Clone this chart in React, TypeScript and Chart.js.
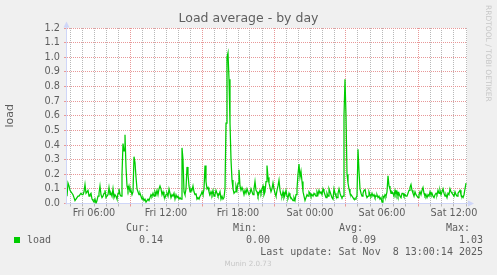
import React, { useEffect, useRef } from 'react';
import { Chart, registerables } from 'chart.js';

Chart.register(...registerables);

const chartTitle = 'Load average - by day';
const yAxisTitle = 'load';
const seriesLabel = 'load';
const seriesColor = '#00CC00';

// first sample at Fri 03:45 (hours counted from Fri 00:00), one sample every 5 minutes
const startHour = 3.75;
const stepHours = 5 / 60;
const loadValues = [
  0.05, 0.14, 0.12, 0.09, 0.08, 0.07, 0.06, 0.04, 0.02, 0.03, 0.04, 0.05, 0.05, 0.06, 0.07, 0.06, 0.06, 0.08, 0.13, 0.07,
  0.08, 0.09, 0.05, 0.06, 0.07, 0.03, 0.02, 0.01, 0.03, 0.00, 0.02, 0.05, 0.07, 0.12, 0.06, 0.04, 0.05, 0.07, 0.09, 0.04,
  0.05, 0.06, 0.11, 0.06, 0.07, 0.05, 0.10, 0.04, 0.06, 0.05, 0.03, 0.07, 0.10, 0.06, 0.05, 0.20, 0.41, 0.36, 0.47, 0.25,
  0.12, 0.09, 0.12, 0.08, 0.09, 0.06, 0.08, 0.32, 0.28, 0.18, 0.10, 0.08, 0.06, 0.07, 0.05, 0.03, 0.04, 0.02, 0.03, 0.01,
  0.02, 0.03, 0.02, 0.04, 0.06, 0.05, 0.07, 0.05, 0.08, 0.06, 0.09, 0.06, 0.10, 0.12, 0.10, 0.06, 0.08, 0.05, 0.04, 0.06,
  0.07, 0.05, 0.10, 0.07, 0.04, 0.06, 0.05, 0.07, 0.03, 0.06, 0.04, 0.05, 0.03, 0.04, 0.03, 0.38, 0.30, 0.08, 0.06, 0.10,
  0.25, 0.20, 0.12, 0.08, 0.10, 0.09, 0.12, 0.08, 0.06, 0.07, 0.03, 0.04, 0.03, 0.05, 0.06, 0.08, 0.06, 0.10, 0.26, 0.15,
  0.10, 0.11, 0.08, 0.06, 0.08, 0.06, 0.09, 0.05, 0.06, 0.09, 0.07, 0.05, 0.06, 0.08, 0.03, 0.05, 0.03, 0.04, 0.10, 0.55,
  1.00, 1.03, 0.85, 0.55, 0.30, 0.16, 0.10, 0.07, 0.08, 0.12, 0.09, 0.14, 0.23, 0.12, 0.09, 0.11, 0.09, 0.06, 0.09, 0.07,
  0.10, 0.08, 0.06, 0.07, 0.10, 0.08, 0.06, 0.10, 0.15, 0.09, 0.08, 0.05, 0.07, 0.09, 0.07, 0.10, 0.12, 0.06, 0.08, 0.15,
  0.26, 0.18, 0.14, 0.11, 0.08, 0.10, 0.14, 0.10, 0.07, 0.05, 0.09, 0.12, 0.16, 0.09, 0.06, 0.05, 0.08, 0.04, 0.06, 0.09,
  0.05, 0.04, 0.07, 0.05, 0.04, 0.03, 0.02, 0.04, 0.02, 0.06, 0.10, 0.20, 0.27, 0.18, 0.22, 0.15, 0.08, 0.05, 0.02, 0.04,
  0.06, 0.05, 0.08, 0.07, 0.05, 0.06, 0.05, 0.07, 0.06, 0.05, 0.08, 0.06, 0.09, 0.07, 0.08, 0.06, 0.10, 0.08, 0.06, 0.04,
  0.07, 0.05, 0.10, 0.08, 0.06, 0.04, 0.03, 0.10, 0.07, 0.05, 0.04, 0.07, 0.10, 0.07, 0.05, 0.04, 0.05, 0.60, 0.85, 0.60,
  0.20, 0.14, 0.10, 0.07, 0.06, 0.05, 0.04, 0.03, 0.03, 0.04, 0.05, 0.37, 0.22, 0.10, 0.07, 0.05, 0.07, 0.09, 0.10, 0.06,
  0.04, 0.05, 0.08, 0.06, 0.05, 0.07, 0.05, 0.06, 0.04, 0.05, 0.06, 0.04, 0.05, 0.03, 0.04, 0.01, 0.05, 0.04, 0.06, 0.05,
  0.08, 0.19, 0.12, 0.10, 0.07, 0.08, 0.07, 0.05, 0.09, 0.06, 0.08, 0.05, 0.07, 0.05, 0.04, 0.07, 0.07, 0.05, 0.06, 0.05,
  0.05, 0.07, 0.09, 0.11, 0.13, 0.09, 0.07, 0.05, 0.08, 0.06, 0.05, 0.04, 0.06, 0.08, 0.06, 0.09, 0.11, 0.07, 0.05, 0.06,
  0.04, 0.06, 0.05, 0.08, 0.06, 0.07, 0.05, 0.04, 0.06, 0.07, 0.06, 0.09, 0.07, 0.09, 0.06, 0.08, 0.10, 0.07, 0.05, 0.06,
  0.04, 0.07, 0.06, 0.10, 0.08, 0.07, 0.06, 0.05, 0.08, 0.06, 0.05, 0.07, 0.08, 0.09, 0.06, 0.05, 0.04, 0.06, 0.10, 0.14,
];

const xMinHour = 3.75;
const xMaxHour = 3.75 + 400 / 12;
const xGridHours = Array.from({ length: 34 }, (_, i) => 4 + i);
const xMajorGridHours = [3, 9, 15, 21, 27, 33, 39];
const xTickHours = [6, 12, 18, 24, 30, 36];
const xTickLabels = ['Fri 06:00', 'Fri 12:00', 'Fri 18:00', 'Sat 00:00', 'Sat 06:00', 'Sat 12:00'];
const yMin = 0;
const yMax = 1.2;
const yStep = 0.1;

const legendHeaders = ['Cur:', 'Min:', 'Avg:', 'Max:'];
const legendValues = ['0.14', '0.00', '0.09', '1.03'];
const lastUpdateText = 'Last update: Sat Nov  8 13:00:14 2025';
const watermarkText = 'RRDTOOL / TOBI OETIKER';
const versionText = 'Munin 2.0.73';

const FONT = '"DejaVu Sans", Verdana, sans-serif';
const MONO = '"DejaVu Sans Mono", monospace';
const fontColor = '#5e5e5e';
const fadedColor = '#c7c7c7';
const axisColor = '#CFD6F8';
const majorGrid = '#E89898';
const minorGrid = '#B8B8B8';

const decorPlugin = {
  id: 'muninDecor',
  beforeDraw(chart: any) {
    const { ctx, chartArea: a, width, height } = chart;
    ctx.save();
    ctx.fillStyle = '#F0F0F0';
    ctx.fillRect(0, 0, width, height);
    ctx.fillStyle = '#FFFFFF';
    ctx.fillRect(a.left, a.top, a.right - a.left, a.bottom - a.top);
    ctx.restore();
  },
  beforeDatasetsDraw(chart: any) {
    const { ctx, chartArea: a } = chart;
    const ax = Math.round(a.left) - 0.5;
    const ay = Math.floor(a.bottom) + 0.5;
    const rx = Math.round(a.right);
    ctx.save();
    ctx.strokeStyle = axisColor;
    ctx.fillStyle = axisColor;
    ctx.lineWidth = 1;
    ctx.beginPath();
    ctx.moveTo(ax, ay + 1);
    ctx.lineTo(ax, a.top - 1);
    ctx.moveTo(ax - 1, ay);
    ctx.lineTo(rx + 1, ay);
    ctx.stroke();
    // arrow on top of the value axis
    ctx.beginPath();
    ctx.moveTo(ax, a.top - 6.5);
    ctx.lineTo(ax + 3, a.top - 0.5);
    ctx.lineTo(ax - 3, a.top - 0.5);
    ctx.closePath();
    ctx.fill();
    // arrow at the end of the time axis
    ctx.beginPath();
    ctx.moveTo(rx + 7, ay);
    ctx.lineTo(rx + 1, ay - 3);
    ctx.lineTo(rx + 1, ay + 3);
    ctx.closePath();
    ctx.fill();
    ctx.restore();
  },
  afterDraw(chart: any) {
    const { ctx } = chart;
    ctx.save();
    ctx.fillStyle = fadedColor;
    ctx.font = `7.5px ${FONT}`;
    ctx.textBaseline = 'middle';
    ctx.textAlign = 'left';
    ctx.translate(487.5, 5);
    ctx.rotate(Math.PI / 2);
    ctx.fillText(watermarkText, 0, 0);
    ctx.restore();

    ctx.save();
    ctx.font = `10px ${MONO}`;
    ctx.textBaseline = 'middle';
    ctx.fillStyle = fontColor;
    ctx.textAlign = 'right';
    const headerRight = [150, 257, 363, 470];
    const valueRight = [163, 270, 376, 483];
    legendHeaders.forEach((h, i) => ctx.fillText(h, headerRight[i], 228));
    legendValues.forEach((v, i) => ctx.fillText(v, valueRight[i], 240));
    ctx.fillText(lastUpdateText, 483, 252);
    ctx.textAlign = 'left';
    ctx.fillText(seriesLabel, 27, 240);
    ctx.fillStyle = seriesColor;
    ctx.fillRect(14, 237, 6, 6);
    ctx.fillStyle = fadedColor;
    ctx.font = `7.2px ${FONT}`;
    ctx.textAlign = 'center';
    ctx.fillText(versionText, 248, 264);
    ctx.restore();
  },
};

export default function App() {
  const canvasRef = useRef<HTMLCanvasElement | null>(null);

  useEffect(() => {
    document.body.style.margin = '0';
    const canvas = canvasRef.current;
    if (!canvas) return;
    const points = loadValues.map((v, i) => ({ x: startHour + i * stepHours, y: v }));
    const chart = new Chart(canvas, {
      type: 'line',
      data: {
        datasets: [
          {
            label: seriesLabel,
            data: points,
            borderColor: seriesColor,
            backgroundColor: seriesColor,
            borderWidth: 1.25,
            pointRadius: 0,
            tension: 0,
            fill: false,
            yAxisID: 'y',
            xAxisID: 'x',
          },
        ],
      },
      options: {
        animation: false,
        responsive: false,
        devicePixelRatio: 1,
        events: [],
        layout: { padding: { left: 0, right: 0, top: 0, bottom: 50 } },
        plugins: {
          legend: { display: false },
          tooltip: { enabled: false },
          title: {
            display: true,
            text: chartTitle,
            color: fontColor,
            font: { family: FONT, size: 12.5, weight: 'normal' },
            padding: { top: 11, bottom: 2 },
          },
        },
        scales: {
          x: {
            type: 'linear',
            position: 'bottom',
            min: xMinHour,
            max: xMaxHour,
            bounds: 'data',
            afterBuildTicks: (scale: any) => {
              scale.ticks = xGridHours.map((v) => ({ value: v }));
            },
            afterFit: (scale: any) => {
              scale.height = 21.5;
            },
            grid: {
              color: (c: any) =>
                c.tick && xMajorGridHours.includes(c.tick.value) ? majorGrid : minorGrid,
              tickColor: (c: any) =>
                c.tick && xMajorGridHours.includes(c.tick.value) ? majorGrid : minorGrid,
              lineWidth: 1,
              tickLength: 3,
              drawTicks: true,
            },
            border: { display: false, dash: [1, 1] },
            ticks: {
              autoSkip: false,
              maxRotation: 0,
              minRotation: 0,
              padding: 1,
              color: fontColor,
              font: { family: FONT, size: 9.7 },
              callback: (value: any) => {
                const idx = xTickHours.indexOf(Number(value));
                return idx >= 0 ? xTickLabels[idx] : '';
              },
            },
          },
          y: {
            type: 'linear',
            position: 'left',
            min: yMin,
            max: yMax,
            afterFit: (scale: any) => {
              scale.width = 67;
            },
            grid: {
              color: majorGrid,
              tickColor: majorGrid,
              lineWidth: 1,
              tickLength: 3,
            },
            border: { display: false, dash: [1, 1] },
            title: {
              display: true,
              text: yAxisTitle,
              color: fontColor,
              font: { family: FONT, size: 11 },
              padding: { top: 4, bottom: 0 },
            },
            ticks: {
              stepSize: yStep,
              maxTicksLimit: 30,
              autoSkip: false,
              padding: 4,
              color: fontColor,
              font: { family: FONT, size: 9.7 },
              callback: (value: any) => Number(value).toFixed(1),
            },
          },
          yR: {
            type: 'linear',
            position: 'right',
            display: true,
            grid: { display: false, drawTicks: false },
            border: { display: false },
            ticks: { display: false },
            afterFit: (scale: any) => {
              scale.width = 30;
            },
          },
        },
      } as any,
      plugins: [decorPlugin],
    });
    return () => chart.destroy();
  }, []);

  return (
    <div style={{ position: 'fixed', left: 0, top: 0, width: 497, height: 275 }}>
      <canvas ref={canvasRef} width={497} height={275} style={{ display: 'block', width: 497, height: 275 }} />
    </div>
  );
}
